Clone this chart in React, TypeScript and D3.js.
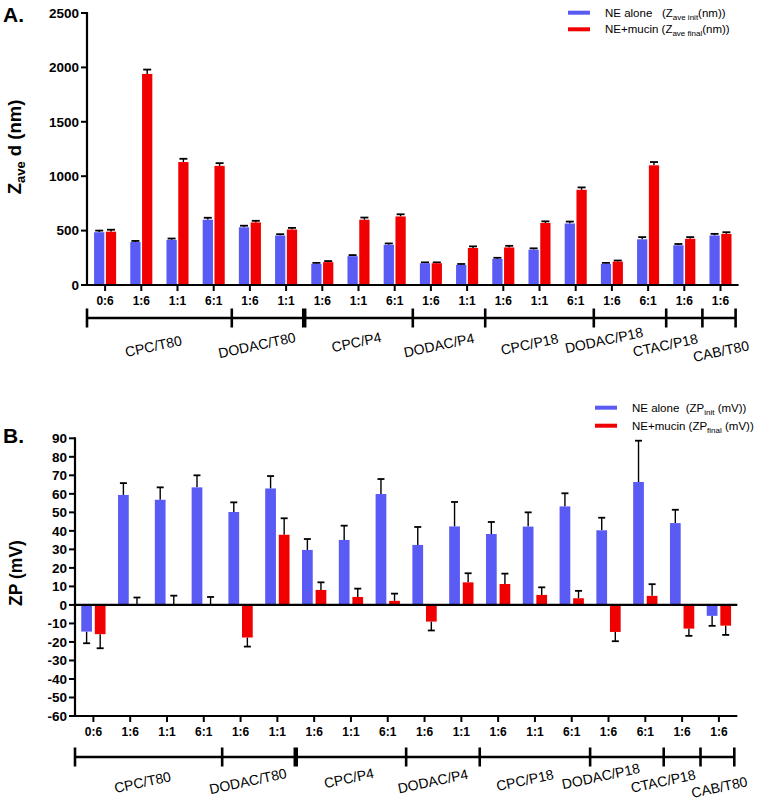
import React from 'react';
import * as d3 from 'd3';

// categories (surfactant ratio) and the formulation groups they belong to
const ratios = ['0:6', '1:6', '1:1', '6:1', '1:6', '1:1', '1:6', '1:1', '6:1', '1:6', '1:1', '1:6', '1:1', '6:1', '1:6', '6:1', '1:6', '1:6'];
const groupNames = ['CPC/T80', 'DODAC/T80', 'CPC/P4', 'DODAC/P4', 'CPC/P18', 'DODAC/P18', 'CTAC/P18', 'CAB/T80'];
const groupSizes = [4, 2, 3, 2, 3, 2, 1, 1];

// panel A: Z-average size (nm)
const zaveInit = [485, 395, 415, 600, 530, 455, 195, 265, 370, 200, 185, 240, 325, 565, 195, 420, 365, 455];
const zaveInitErr = [15, 10, 12, 18, 15, 12, 8, 10, 12, 8, 8, 10, 12, 18, 8, 20, 12, 15];
const zaveFinal = [490, 1940, 1130, 1095, 575, 510, 210, 600, 630, 200, 340, 345, 570, 875, 215, 1100, 425, 470];
const zaveFinalErr = [18, 40, 30, 25, 15, 15, 10, 20, 20, 8, 15, 15, 15, 22, 10, 30, 15, 15];
const zaveTicks = [0, 500, 1000, 1500, 2000, 2500];

// panel B: zeta potential (mV)
const zpInit = [-14.4, 59.4, 56.8, 63.5, 50.2, 62.9, 29.7, 35.1, 59.9, 32.4, 42.4, 38.3, 42.3, 53.2, 40.3, 66.4, 44.2, -5.9];
const zpInitErr = [6.3, 6.4, 6.7, 6.5, 5.2, 6.7, 5.9, 7.7, 8.1, 9.7, 13.2, 6.5, 7.7, 7.1, 6.8, 22.3, 7.2, 5.4];
const zpFinal = [-15.8, 0, 0, 0, -17.6, 37.9, 8.1, 4.3, 2.2, -9, 12.2, 11.3, 5.4, 3.6, -14.6, 4.9, -12.8, -11.2];
const zpFinalErr = [7.6, 4, 5, 4.3, 4.9, 8.9, 4.1, 4.5, 3.9, 4.8, 4.9, 5.6, 4.1, 4, 5, 6.3, 3.9, 5];
const zpTicks = [90, 80, 70, 60, 50, 40, 30, 20, 10, 0, -10, -20, -30, -40, -50, -60];

// small hand nudges for the slanted group labels
const labelNudgeX = [-5, -10, -1, -9, -9, -25, -18, 3];
const labelNudgeY = [1, 0, -3, 0, -1, -5, 0, 6];

const FONT = 'Liberation Sans, Arial, Helvetica, sans-serif';
const BLUE = '#5a5af4';
const RED = '#f00000';

type PanelProps = {
  x0: number; x1: number;
  y: d3.ScaleLinear<number, number>;
  ticks: number[];
  init: number[]; initErr: number[];
  fin: number[]; finErr: number[];
  baseY: number;      // where the category ticks sit
  catLabelY: number;
  bracketY: number;
  groupLabelY: number;
  padIn: number; padOut: number;
  capW: number;
  showZero: boolean;
};

function Panel(p: PanelProps) {
  const x = d3.scaleBand<number>().domain(d3.range(ratios.length)).range([p.x0, p.x1]);
  const xs = d3.scaleBand<number>().domain([0, 1]).range([0, x.bandwidth()])
    .paddingInner(p.padIn).paddingOuter(p.padOut);
  const y = p.y;
  const y0 = y(0);
  const [yBot, yTop] = y.range();

  const starts = [0, ...d3.cumsum(groupSizes)].map(i => (i < ratios.length ? x(i)! : p.x1 - 3));

  const series = [
    { vals: p.init, errs: p.initErr, color: BLUE, k: 0 },
    { vals: p.fin, errs: p.finErr, color: RED, k: 1 },
  ];

  return (
    <g>
      {series.map(s => s.vals.map((v, i) => {
        const bx = x(i)! + xs(s.k)!;
        const bw = xs.bandwidth();
        const cx = bx + bw / 2;
        const tip = v >= 0 ? v + s.errs[i] : v - s.errs[i];
        return (
          <g key={`${s.k}-${i}`}>
            <line x1={cx} x2={cx} y1={y(v)} y2={y(tip)} stroke="#000" strokeWidth={1.4} />
            <line x1={cx - p.capW / 2} x2={cx + p.capW / 2} y1={y(tip)} y2={y(tip)} stroke="#000" strokeWidth={1.8} />
            <rect x={bx} width={bw} y={Math.min(y(v), y0)} height={Math.abs(y(v) - y0)} fill={s.color} />
          </g>
        );
      }))}

      {/* y axis */}
      <line x1={p.x0} x2={p.x0} y1={yBot + 1} y2={yTop - 1} stroke="#000" strokeWidth={2.2} />
      {p.ticks.map(t => (
        <g key={t}>
          <line x1={p.x0 - 6} x2={p.x0} y1={y(t)} y2={y(t)} stroke="#000" strokeWidth={2} />
          <text x={p.x0 - 8} y={y(t)} dy="0.36em" textAnchor="end" fontFamily={FONT} fontWeight="bold" fontSize={13.5}>{t}</text>
        </g>
      ))}

      {/* category axis */}
      <line x1={p.x0 - 1} x2={p.x1} y1={p.baseY} y2={p.baseY} stroke="#000" strokeWidth={2.2} />
      {p.showZero && <line x1={p.x0} x2={p.x1} y1={y0} y2={y0} stroke="#000" strokeWidth={2.2} />}
      {ratios.map((r, i) => {
        const cx = x(i)! + x.bandwidth() / 2;
        return (
          <g key={i}>
            <line x1={cx} x2={cx} y1={p.baseY} y2={p.baseY + 6} stroke="#000" strokeWidth={2} />
            <text x={cx} y={p.catLabelY} dy="0.36em" textAnchor="middle" fontFamily={FONT} fontWeight="bold" fontSize={12}>{r}</text>
          </g>
        );
      })}

      {/* group bracket */}
      <line x1={starts[0]} x2={starts[starts.length - 1]} y1={p.bracketY} y2={p.bracketY} stroke="#000" strokeWidth={2.4} />
      {starts.map((sx, i) => (
        <line key={i} x1={sx} x2={sx} y1={p.bracketY - 9.5} y2={p.bracketY + 9.5} stroke="#000" strokeWidth={i === 2 ? 4.5 : 2.6} />
      ))}
      {groupNames.map((g, i) => {
        const cx = (starts[i] + starts[i + 1]) / 2 + labelNudgeX[i];
        const cy = p.groupLabelY + labelNudgeY[i] + 5;
        return (
          <text key={g} x={cx} y={cy} transform={`rotate(-12 ${cx} ${cy})`} textAnchor="middle"
            fontFamily={FONT} fontSize={14}>{g}</text>
        );
      })}
    </g>
  );
}

export default function App() {
  const yA = d3.scaleLinear().domain([0, 2500]).range([285, 13]);
  const yB = d3.scaleLinear().domain([-60, 90]).range([716, 438.3]);

  return (
    <svg width={760} height={805} style={{ position: 'absolute', left: 0, top: 0, background: '#fff' }}>
      <rect width={760} height={805} fill="#fff" />

      {/* Panel A */}
      <text x={3} y={22} fontFamily={FONT} fontWeight="bold" fontSize={21}>A.</text>
      <text transform="translate(21,147) rotate(-90)" textAnchor="middle" fontFamily={FONT} fontWeight="bold" fontSize={18.5}>
        Z<tspan fontSize={13} dy={4}>ave</tspan><tspan dy={-4}> d (nm)</tspan>
      </text>
      <Panel x0={87} x1={738.6} y={yA} ticks={zaveTicks}
        init={zaveInit} initErr={zaveInitErr} fin={zaveFinal} finErr={zaveFinalErr}
        baseY={285} catLabelY={301} bracketY={318} groupLabelY={345}
        padIn={0.13} padOut={0.6} capW={8} showZero={false} />

      <g fontFamily={FONT} fontSize={11.5}>
        <line x1={568} x2={590} y1={12.7} y2={12.7} stroke={BLUE} strokeWidth={4} />
        <line x1={568} x2={590} y1={29.3} y2={29.3} stroke={RED} strokeWidth={4} />
        <text x={605} y={12.7} dy="0.36em" style={{ whiteSpace: 'pre' }}>
          {'NE alone   (Z'}<tspan fontSize={8} dy={3}>ave init</tspan><tspan dy={-3}>(nm))</tspan>
        </text>
        <text x={605} y={29.3} dy="0.36em" style={{ whiteSpace: 'pre' }}>
          {'NE+mucin (Z'}<tspan fontSize={8} dy={3}>ave final</tspan><tspan dy={-3}>(nm))</tspan>
        </text>
      </g>

      {/* Panel B */}
      <text x={3} y={443} fontFamily={FONT} fontWeight="bold" fontSize={21}>B.</text>
      <text transform="translate(22,573) rotate(-90)" textAnchor="middle" fontFamily={FONT} fontWeight="bold" fontSize={17.5}>ZP (mV)</text>
      <Panel x0={75} x1={737.3} y={yB} ticks={zpTicks}
        init={zpInit} initErr={zpInitErr} fin={zpFinal} finErr={zpFinalErr}
        baseY={716} catLabelY={732} bracketY={757} groupLabelY={781}
        padIn={0.21} padOut={0.46} capW={7} showZero={true} />

      <g fontFamily={FONT} fontSize={11.5}>
        <line x1={595} x2={617} y1={407.7} y2={407.7} stroke={BLUE} strokeWidth={4} />
        <line x1={595} x2={617} y1={425.7} y2={425.7} stroke={RED} strokeWidth={4} />
        <text x={632} y={407.7} dy="0.36em" style={{ whiteSpace: 'pre' }}>
          {'NE alone  (ZP'}<tspan fontSize={8} dy={3}>init</tspan><tspan dy={-3}>{' (mV))'}</tspan>
        </text>
        <text x={632} y={425.7} dy="0.36em" style={{ whiteSpace: 'pre' }}>
          {'NE+mucin (ZP'}<tspan fontSize={8} dy={3}>final</tspan><tspan dy={-3}>{' (mV))'}</tspan>
        </text>
      </g>
    </svg>
  );
}
